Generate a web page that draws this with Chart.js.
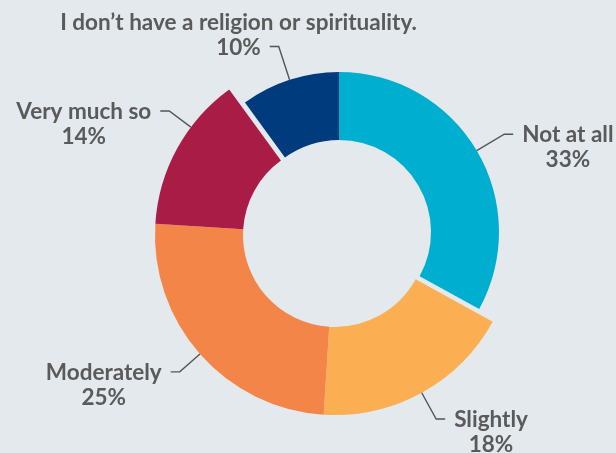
<!DOCTYPE html>
<html>
<head>
<meta charset="utf-8">
<script src="https://cdn.jsdelivr.net/npm/chart.js@4.4.1/dist/chart.umd.min.js"></script>
<style>
  html, body { margin: 0; padding: 0; background: #e4e9ed; }
  #wrap { position: relative; width: 616px; height: 453px; }
</style>
</head>
<body>
<div id="wrap"><canvas id="c" width="616" height="453"></canvas></div>
<script>
// Survey answers, clockwise from 12 o'clock
const categories = ['Not at all', 'Slightly', 'Moderately', 'Very much so', 'I don’t have a religion or spirituality.'];
const shares = [33, 18, 25, 14, 10];
const percentLabels = shares.map(v => v + '%');
const sliceColors = ['#00afcf', '#fbaf52', '#f48548', '#a91c45', '#003b7e'];

// Presentation settings
const recessed = [true, false, false, false, true];   // drawn on the smaller ring
const leaderLen = [32, 30, 27, 27, 35];
const leaderTurnDeg = [0, 0, 0, 8, 0];
const labelSide = [1, 1, -1, -1, -1];                   // 1 = right, -1 = left
const attachLine = [0, 0, 0, 0, 1];                     // text line the leader points to

const TEXT_COLOR = '#5a5a5a';
const FONT = '700 22.5px Lato';
const CAP = 16, LINE_H = 25, TICK = 9, GAP = 9;

const ringShape = {
  id: 'ringShape',
  afterDatasetsUpdate(chart) {
    const arcs = chart.getDatasetMeta(0).data;
    arcs.forEach((arc, i) => {
      if (recessed[i]) {
        arc.outerRadius = arc.outerRadius * 160 / 180;
        arc.x += 4;
        arc.y -= 3;
      }
    });
  }
};

const leaderLabels = {
  id: 'leaderLabels',
  afterDraw(chart) {
    const ctx = chart.ctx;
    const arcs = chart.getDatasetMeta(0).data;
    ctx.save();
    ctx.font = FONT;
    ctx.fillStyle = TEXT_COLOR;
    ctx.strokeStyle = '#555555';
    ctx.lineWidth = 1.4;
    ctx.lineJoin = 'miter';
    arcs.forEach((arc, i) => {
      const a = (arc.startAngle + arc.endAngle) / 2 + leaderTurnDeg[i] * Math.PI / 180;
      const cs = Math.cos(a), sn = Math.sin(a);
      const ax = arc.x + cs * arc.outerRadius, ay = arc.y + sn * arc.outerRadius;
      const ex = ax + cs * leaderLen[i], ey = ay + sn * leaderLen[i];
      const dir = labelSide[i];
      const tx = ex + dir * TICK;
      ctx.beginPath();
      ctx.moveTo(ax, ay);
      ctx.lineTo(ex, ey);
      ctx.lineTo(tx, ey);
      ctx.stroke();
      const lines = [categories[i], percentLabels[i]];
      const w = ctx.measureText(lines[attachLine[i]]).width;
      const cx = tx + dir * (GAP + w / 2);
      const base0 = ey + CAP / 2 - attachLine[i] * LINE_H;
      ctx.textAlign = 'center';
      ctx.textBaseline = 'alphabetic';
      lines.forEach((t, k) => ctx.fillText(t, cx, base0 + k * LINE_H));
    });
    ctx.restore();
  }
};

new Chart(document.getElementById('c'), {
  type: 'doughnut',
  data: {
    labels: categories,
    datasets: [{
      data: shares,
      backgroundColor: sliceColors,
      borderWidth: 0,
      hoverOffset: 0,
      offset: 0
    }]
  },
  options: {
    responsive: false,
    animation: false,
    radius: 180,
    cutout: 92,
    layout: { padding: { left: 155, top: 55, right: 101, bottom: 38 } },
    plugins: {
      legend: { display: false },
      tooltip: { enabled: false }
    },
    events: []
  },
  plugins: [ringShape, leaderLabels]
});
</script>
</body>
</html>
